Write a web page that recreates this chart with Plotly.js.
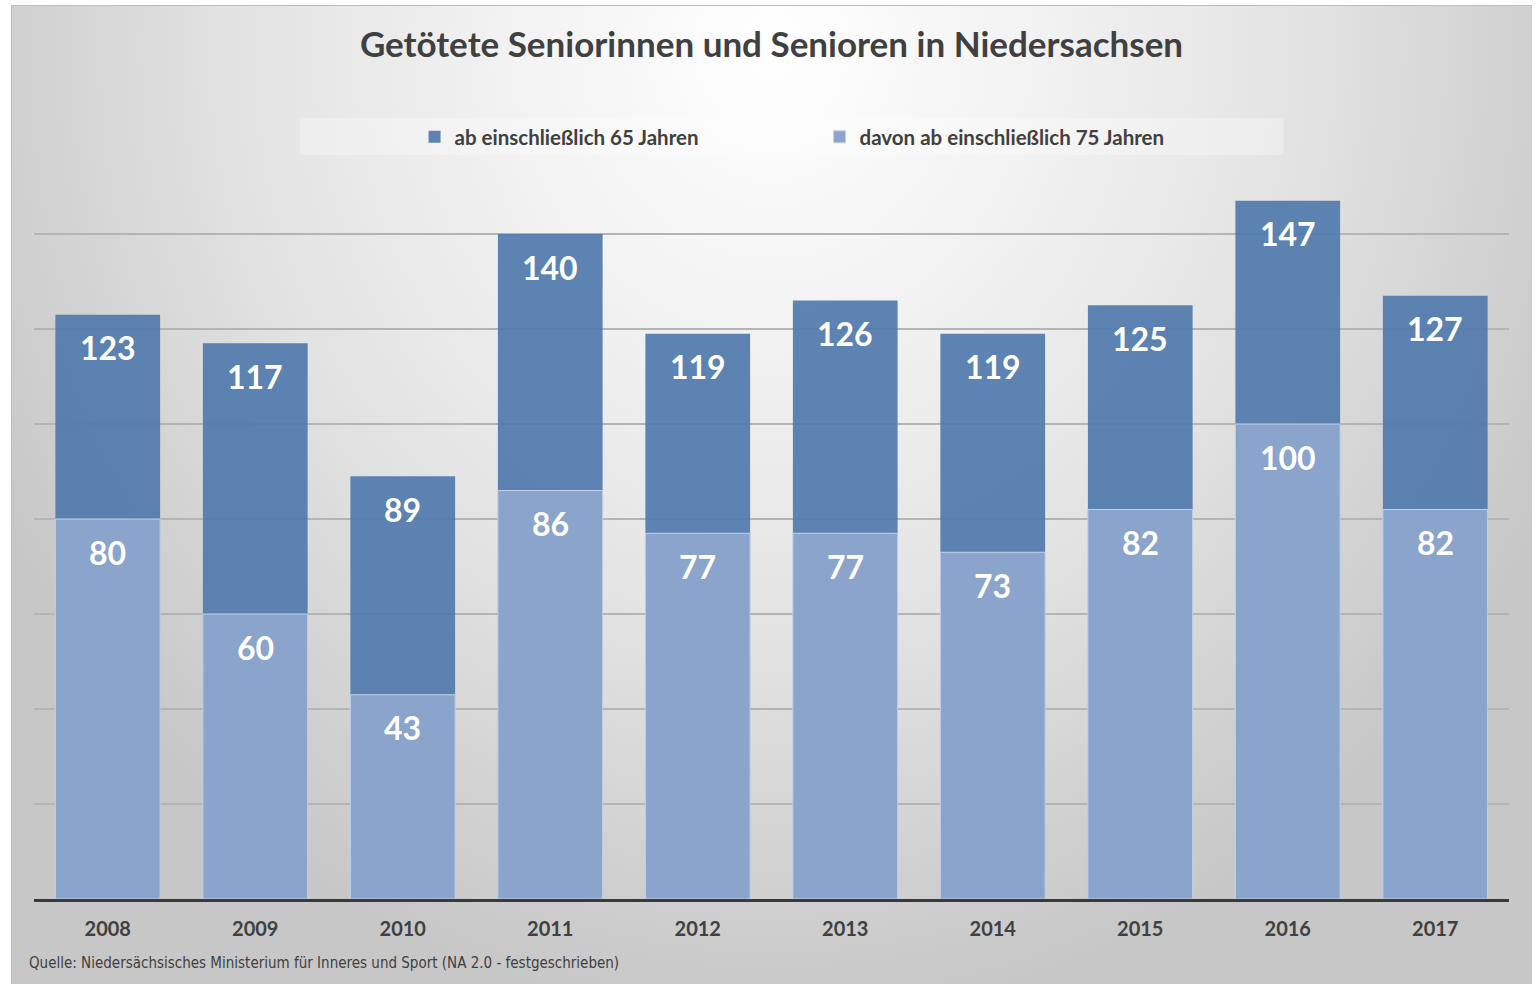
<!DOCTYPE html>
<html>
<head>
<meta charset="utf-8">
<script src="https://cdn.plot.ly/plotly-3.0.1.min.js"></script>
<style>
  html, body { margin: 0; padding: 0; background: #ffffff; width: 1537px; height: 984px; overflow: hidden; }
  #frame {
    position: absolute; left: 11px; top: 5px; width: 1521px; height: 979px;
    border-left: 1px solid #bdbdbd; border-top: 1px solid #bdbdbd; box-sizing: border-box;
    background: radial-gradient(ellipse 58% 100% at 50% 4%, #ffffff 0%, #f2f2f2 30%, #e3e3e3 60%, #d1d1d1 85%, #c7c7c7 100%);
  }
  #chart { position: absolute; left: 0; top: 0; width: 1537px; height: 984px; }
</style>
</head>
<body>
<div id="frame"></div>
<div id="chart"></div>
<script>
const years = ['2008', '2009', '2010', '2011', '2012', '2013', '2014', '2015', '2016', '2017'];
const ab65 = [123, 117, 89, 140, 119, 126, 119, 125, 147, 127];
const ab75 = [80, 60, 43, 86, 77, 77, 73, 82, 100, 82];
const seriesNames = ['ab einschließlich 65 Jahren', 'davon ab einschließlich 75 Jahren'];
const titleText = 'Getötete Seniorinnen und Senioren in Niedersachsen';
const sourceText = 'Quelle: Niedersächsisches Ministerium für Inneres und Sport (NA 2.0 - festgeschrieben)';

const FONT = 'Lato, "Open Sans", sans-serif';

const traces = [
  {
    type: 'bar', name: seriesNames[0], x: years, y: ab65,
    marker: { color: 'rgba(79,122,171,0.92)', line: { width: 0 } },
    hoverinfo: 'skip'
  },
  {
    type: 'bar', name: seriesNames[1], x: years, y: ab75,
    marker: { color: '#8aa4cc', line: { width: 1, color: '#c3d2ea' } },
    hoverinfo: 'skip'
  }
];

const annotations = [];
years.forEach((yr, i) => {
  // category index i on the category x axis
  annotations.push({ x: i, y: ab65[i], xref: 'x', yref: 'y', text: String(ab65[i]), showarrow: false,
    yanchor: 'middle', yshift: -33, font: { family: FONT, size: 32, color: '#ffffff', weight: 'bold' } });
  annotations.push({ x: i, y: ab75[i], xref: 'x', yref: 'y', text: String(ab75[i]), showarrow: false,
    yanchor: 'middle', yshift: -33, font: { family: FONT, size: 32, color: '#ffffff', weight: 'bold' } });
});
annotations.push({
  xref: 'paper', yref: 'paper', x: -0.0047, y: -0.084, xanchor: 'left', yanchor: 'middle',
  text: sourceText, showarrow: false,
  font: { family: '"Liberation Sans Narrow", "DejaVu Sans Condensed", sans-serif', size: 15, color: '#404040' }
});

const layout = {
  width: 1537, height: 984,
  paper_bgcolor: 'rgba(0,0,0,0)', plot_bgcolor: 'rgba(0,0,0,0)',
  margin: { l: 34, r: 28, t: 139, b: 85 },
  barmode: 'overlay',
  bargap: 0.29,
  showlegend: true,
  title: {
    text: titleText, xref: 'paper', x: 0.5, xanchor: 'center',
    yref: 'container', y: 1 - 45 / 984, yanchor: 'middle',
    font: { family: FONT, size: 35, color: '#404040', weight: 'bold' }
  },
  legend: {
    orientation: 'h', xref: 'paper', yref: 'paper', x: 0.258, xanchor: 'left', y: 1.0026, yanchor: 'middle',
    bgcolor: 'rgba(0,0,0,0)', entrywidth: 360, entrywidthmode: 'pixels',
    font: { family: FONT, size: 20.5, color: '#404040', weight: 'bold' },
    traceorder: 'normal', itemclick: false, itemdoubleclick: false
  },
  xaxis: {
    type: 'category', range: [-0.5, years.length - 0.5], showgrid: false, zeroline: false,
    showline: true, linecolor: '#3a3a3a', linewidth: 3,
    ticks: '', ticklabelstandoff: 10,
    tickfont: { family: FONT, size: 20, color: '#404040', weight: 'bold' },
    fixedrange: true
  },
  yaxis: {
    range: [0, 160], dtick: 20, showticklabels: false, ticks: '',
    showgrid: true, gridcolor: '#b4b4b4', gridwidth: 2, zeroline: false, showline: false,
    fixedrange: true
  },
  shapes: [{
    type: 'rect', xref: 'paper', yref: 'paper', x0: 0.180, x1: 0.847, y0: 0.979, y1: 1.0276,
    fillcolor: 'rgba(255,255,255,0.3)', line: { width: 0 }, layer: 'above'
  }],
  annotations: annotations
};

Plotly.newPlot('chart', traces, layout, { staticPlot: true, displayModeBar: false });
</script>
</body>
</html>
